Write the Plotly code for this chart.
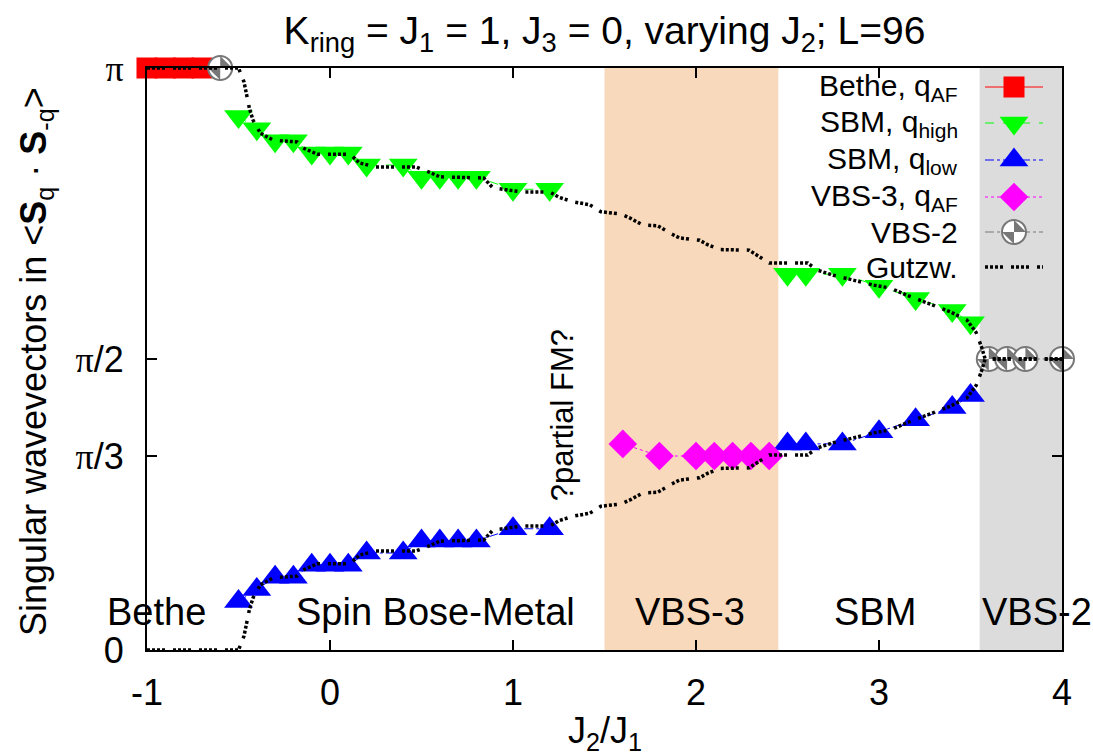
import numpy as np
import plotly.graph_objects as go

PI = np.pi

# ---------------- data (wavevectors in units of pi, or of pi/48) ----------------
bethe_x = [-1.0, -0.9, -0.8, -0.7]
bethe_q = [1.0, 1.0, 1.0, 1.0]

sbm_x = [-0.5, -0.4, -0.3, -0.2, -0.1, 0.0, 0.1, 0.2, 0.4, 0.5, 0.6, 0.7, 0.8, 1.0, 1.2,
         None, 2.5, 2.6, 2.8, 3.0, 3.2, 3.4, 3.5]
sbm_high_n48 = [44, 43, 42, 42, 41, 41, 41, 40, 40, 39, 39, 39, 39, 38, 38,
                None, 31, 31, 31, 30, 29, 28, 27]
sbm_low_n48 = [4, 5, 6, 6, 7, 7, 7, 8, 8, 9, 9, 9, 9, 10, 10,
               None, 17, 17, 17, 18, 19, 20, 21]

vbs3_x = [1.6, 1.8, 2.0, 2.1, 2.2, 2.3, 2.4]
vbs3_n48 = [17, 16, 16, 16, 16, 16, 16]

vbs2_x = [-0.6, None, 3.6, 3.7, 3.8, 4.0]
vbs2_q = [1.0, None, 0.5, 0.5, 0.5, 0.5]

gutz_x = [-1.0, -0.5, -0.47, -0.44, -0.42, -0.38, -0.31, -0.18, -0.15, -0.07, 0.11, 0.16,
          0.25, 0.47, 0.55, 0.60, 0.84, 0.89, 1.05, 1.20, 1.25, 1.33, 1.42, 1.48, 1.59,
          1.64, 1.71, 1.79, 1.86, 1.91, 2.02, 2.06, 2.13, 2.29, 2.35, 2.40, 2.61, 2.66,
          2.75, 2.97, 3.06, 3.15, 3.29, 3.39, 3.48, 3.53, 3.56, 3.58, 4.0]
gutz_high = [1.0, 1.0, 0.976, 0.93, 0.91, 0.888, 0.876, 0.873, 0.863, 0.852, 0.852, 0.837,
             0.830, 0.830, 0.820, 0.813, 0.811, 0.794, 0.787, 0.787, 0.778, 0.770, 0.765,
             0.753, 0.749, 0.742, 0.730, 0.729, 0.716, 0.708, 0.704, 0.697, 0.688, 0.687,
             0.675, 0.665, 0.665, 0.653, 0.644, 0.627, 0.622, 0.610, 0.593, 0.581, 0.567,
             0.546, 0.521, 0.5, 0.5]
gutz_low = [0.0, 0.0, 0.024, 0.07, 0.09, 0.112, 0.124, 0.127, 0.137, 0.148, 0.148, 0.163,
            0.170, 0.170, 0.180, 0.187, 0.189, 0.206, 0.213, 0.213, 0.222, 0.230, 0.235,
            0.247, 0.251, 0.258, 0.270, 0.271, 0.284, 0.292, 0.296, 0.303, 0.312, 0.313,
            0.325, 0.335, 0.335, 0.347, 0.356, 0.373, 0.378, 0.390, 0.407, 0.419, 0.433,
            0.454, 0.479, 0.5, 0.5]

# phase regions
vbs3_region = [1.5, 2.45]
vbs2_region = [3.55, 4.0]

x_ticks = [-1, 0, 1, 2, 3, 4]
y_tick_q = [0.0, 1 / 3, 0.5, 1.0]
PISYM = "<span style='font-family:\"Liberation Serif\"'>π</span>"
y_tick_text = ["0", PISYM + "/3", PISYM + "/2", PISYM]

# ---------------- helpers ----------------
def to_rad_pi(vals):
    return [None if v is None else v * PI for v in vals]

def to_rad_48(vals):
    return [None if v is None else v * PI / 48 for v in vals]

FONT = "Liberation Sans, Arial, sans-serif"
FS_TITLE = 39
FS_REGION = 38
FS_TICK = 36
FS_AXTITLE = 36
FS_LEG = 30
GREEN = "#00ff00"
BLUE = "#0000ff"
MAGENTA = "#ff00ff"
RED = "#ff0000"
GRAY = "#777777"
DOTS = "3px,2px,3px,2px,3px,2px,3px,8px"
TRI = 25
DIA = 22
SQ = 21
CIRC = 24

W, H = 1093, 755
L, R, T, B = 147, 31, 68, 105

fig = go.Figure()

# Bethe
fig.add_trace(go.Scatter(x=bethe_x, y=to_rad_pi(bethe_q), mode="lines+markers",
                         line=dict(color=RED, width=1),
                         marker=dict(symbol="square", size=SQ, color=RED, line=dict(width=0)),
                         cliponaxis=False, showlegend=False))
# SBM high
fig.add_trace(go.Scatter(x=sbm_x, y=to_rad_48(sbm_high_n48), mode="lines+markers",
                         line=dict(color=GREEN, width=1, dash="dash"),
                         marker=dict(symbol="triangle-down", size=TRI, color=GREEN, line=dict(width=0)),
                         cliponaxis=False, showlegend=False))
# SBM low
fig.add_trace(go.Scatter(x=sbm_x, y=to_rad_48(sbm_low_n48), mode="lines+markers",
                         line=dict(color=BLUE, width=1, dash="dashdot"),
                         marker=dict(symbol="triangle-up", size=TRI, color=BLUE, line=dict(width=0)),
                         cliponaxis=False, showlegend=False))
# VBS-3
fig.add_trace(go.Scatter(x=vbs3_x, y=to_rad_48(vbs3_n48), mode="lines+markers",
                         line=dict(color=MAGENTA, width=1, dash="dot"),
                         marker=dict(symbol="diamond", size=DIA, color=MAGENTA, line=dict(width=0)),
                         cliponaxis=False, showlegend=False))
# VBS-2 (quartered circle: white disc + gray wedges + outline)
fig.add_trace(go.Scatter(x=vbs2_x, y=to_rad_pi(vbs2_q), mode="lines+markers",
                         line=dict(color=GRAY, width=1, dash="dashdot"),
                         marker=dict(symbol="circle", size=CIRC, color="white",
                                     line=dict(color=GRAY, width=2)),
                         cliponaxis=False, showlegend=False))
fig.add_trace(go.Scatter(x=vbs2_x, y=to_rad_pi(vbs2_q), mode="markers",
                         marker=dict(symbol="hourglass", size=CIRC / 1.414, angle=45, color=GRAY,
                                     line=dict(width=0)),
                         cliponaxis=False, showlegend=False))
# Gutzwiller
for gy in (gutz_high, gutz_low):
    fig.add_trace(go.Scatter(x=gutz_x, y=to_rad_pi(gy), mode="lines",
                             line=dict(color="black", width=3.5, dash=DOTS),
                             cliponaxis=False, showlegend=False))

# ---------------- custom legend (overlay axes in pixel units) ----------------
leg_rows = [87, 123, 160, 197, 232, 267]
leg_text_x = 960
leg_line = [985, 1043]
leg_mark_x = 1014
leg_items = [
    ("Bethe, q<sub>AF</sub>", RED, "solid", "square", SQ),
    ("SBM, q<sub>high</sub>", GREEN, "dash", "triangle-down", TRI),
    ("SBM, q<sub>low</sub>", BLUE, "dashdot", "triangle-up", TRI),
    ("VBS-3, q<sub>AF</sub>", MAGENTA, "dot", "diamond", DIA),
    ("VBS-2", GRAY, "dashdot", "circle", CIRC),
    ("Gutzw.", "black", DOTS, None, 0),
]
annotations = []
for (txt, col, dash, sym, sz), yy in zip(leg_items, leg_rows):
    annotations.append(dict(text=txt, x=leg_text_x, y=yy, xref="x2", yref="y2",
                            xanchor="right", yanchor="middle", showarrow=False,
                            font=dict(size=FS_LEG, family=FONT, color="black")))
    if sym is None:
        fig.add_trace(go.Scatter(x=leg_line, y=[yy, yy], xaxis="x2", yaxis="y2", mode="lines",
                                 line=dict(color="black", width=3.5, dash=DOTS),
                                 cliponaxis=False, showlegend=False, hoverinfo="skip"))
        continue
    fig.add_trace(go.Scatter(x=leg_line, y=[yy, yy], xaxis="x2", yaxis="y2", mode="lines",
                             line=dict(color=col, width=1, dash=dash),
                             cliponaxis=False, showlegend=False, hoverinfo="skip"))
    if sym == "circle":
        mk = dict(symbol="circle", size=sz, color="white", line=dict(color=GRAY, width=2))
    else:
        mk = dict(symbol=sym, size=sz, color=col, line=dict(width=0))
    fig.add_trace(go.Scatter(x=[leg_mark_x], y=[yy], xaxis="x2", yaxis="y2", mode="markers",
                             marker=mk, cliponaxis=False, showlegend=False, hoverinfo="skip"))
    if sym == "circle":
        fig.add_trace(go.Scatter(x=[leg_mark_x], y=[yy], xaxis="x2", yaxis="y2", mode="markers",
                                 marker=dict(symbol="hourglass", size=CIRC / 1.414, angle=45,
                                             color=GRAY, line=dict(width=0)),
                                 cliponaxis=False, showlegend=False, hoverinfo="skip"))

# ---------------- region labels ----------------
region_labels = [
    ("Bethe", -1.0, 0.065, "left", -42),
    ("Spin Bose-Metal", 0.574, 0.065, "center", 0),
    ("VBS-3", 1.967, 0.065, "center", 0),
    ("SBM", 2.978, 0.065, "center", 0),
    ("VBS-2", 3.55, 0.065, "left", 0),
]
for txt, xx, yq, anc, shift in region_labels:
    annotations.append(dict(text=txt, x=xx, y=yq * PI, xref="x", yref="y", xanchor=anc,
                            xshift=shift, yanchor="middle", showarrow=False,
                            font=dict(size=FS_REGION, family=FONT, color="black")))
annotations.append(dict(text="?partial FM?", x=1.27, y=0.404 * PI, xref="x", yref="y",
                        textangle=-90, showarrow=False,
                        font=dict(size=31, family=FONT, color="black")))
# axis titles
annotations.append(dict(text="J<sub>2</sub>/J<sub>1</sub>", x=0.5, y=(650 - 733) / 582,
                        xref="paper", yref="paper", showarrow=False, yanchor="middle",
                        font=dict(size=FS_AXTITLE, family=FONT, color="black")))
annotations.append(dict(text="Singular wavevectors in &lt;<b>S</b><sub>q</sub> · <b>S</b><sub>-q</sub>&gt;",
                        x=(36 - 147) / 915, y=(650 - 362) / 582, xref="paper", yref="paper",
                        textangle=-90, showarrow=False, xanchor="center", yanchor="middle",
                        font=dict(size=FS_AXTITLE, family=FONT, color="black")))

shapes = [
    dict(type="rect", xref="x", yref="paper", x0=vbs3_region[0], x1=vbs3_region[1], y0=0, y1=1,
         fillcolor="#f9d9bb", line=dict(width=0), layer="below"),
    dict(type="rect", xref="x", yref="paper", x0=vbs2_region[0], x1=vbs2_region[1], y0=0, y1=1,
         fillcolor="#dcdcdc", line=dict(width=0), layer="below"),
]

fig.update_layout(
    width=W, height=H,
    margin=dict(l=L, r=R, t=T, b=B),
    paper_bgcolor="white", plot_bgcolor="white",
    font=dict(family=FONT, size=FS_TICK, color="black"),
    title=dict(text="K<sub>ring</sub> = J<sub>1</sub> = 1, J<sub>3</sub> = 0, varying J<sub>2</sub>; L=96",
               x=0.5, xref="paper", xanchor="center", y=1 - 30 / H, yref="container",
               yanchor="middle", font=dict(size=FS_TITLE, family=FONT, color="black")),
    xaxis=dict(range=[-1, 4], tickvals=x_ticks, ticktext=[str(t) for t in x_ticks],
               ticks="inside", ticklen=10, tickwidth=1.5, tickcolor="black",
               showline=True, linecolor="black", linewidth=2, mirror="ticks",
               showgrid=False, zeroline=False, ticklabelstandoff=10,
               tickfont=dict(size=FS_TICK, family=FONT)),
    yaxis=dict(range=[0, PI], tickvals=[q * PI for q in y_tick_q], ticktext=y_tick_text,
               ticks="inside", ticklen=10, tickwidth=1.5, tickcolor="black",
               showline=True, linecolor="black", linewidth=2, mirror="ticks",
               showgrid=False, zeroline=False, ticklabelstandoff=14,
               tickfont=dict(size=FS_TICK, family=FONT)),
    xaxis2=dict(range=[L, W - R], overlaying="x", visible=False, fixedrange=True),
    yaxis2=dict(range=[H - B, T], overlaying="y", visible=False, fixedrange=True),
    shapes=shapes,
    annotations=annotations,
    showlegend=False,
)

fig.write_html("out.html")
